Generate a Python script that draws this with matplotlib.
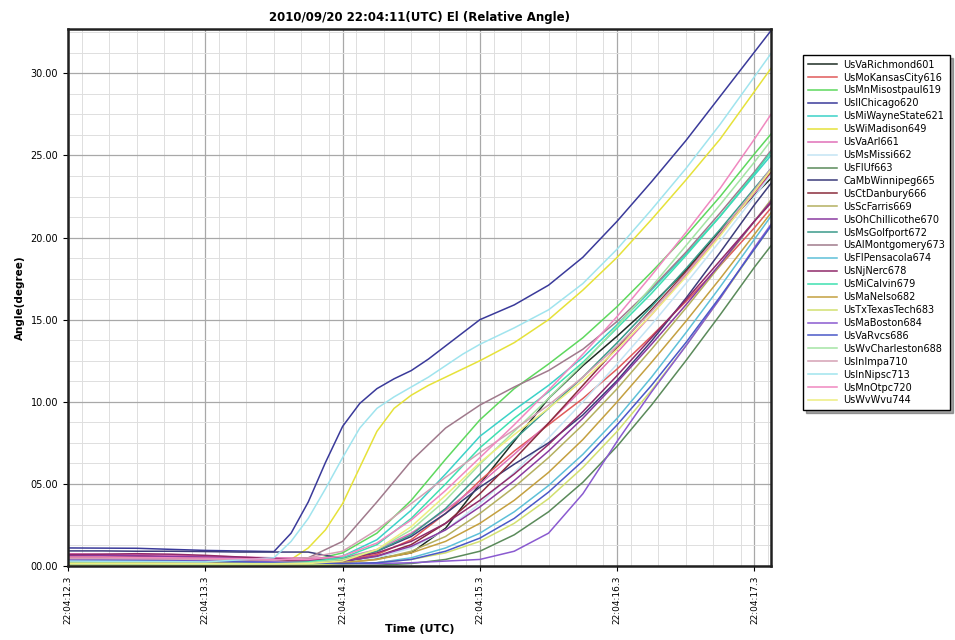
import matplotlib
matplotlib.use("Agg")
import matplotlib.pyplot as plt
from matplotlib.ticker import MultipleLocator, FuncFormatter

# seconds within 22:04
times = [12.30, 12.55, 12.80, 13.05, 13.30, 13.55, 13.80, 14.05, 14.30, 14.55, 14.80,
         15.05, 15.30, 15.55, 15.80, 16.05, 16.30, 16.55, 16.80, 17.05, 17.30, 17.42]
# denser sampling for the three early risers
times_fast = [12.30, 12.80, 13.30, 13.80, 13.925, 14.05, 14.175, 14.30, 14.425, 14.55, 14.675,
              14.80, 14.925, 15.05, 15.175, 15.30, 15.55, 15.80, 16.05, 16.30, 16.55, 16.80,
              17.05, 17.30, 17.42]

tick_pos = [12.3, 13.3, 14.3, 15.3, 16.3, 17.3]
tick_labels = ["22:04:12.3", "22:04:13.3", "22:04:14.3", "22:04:15.3", "22:04:16.3", "22:04:17.3"]

names = ["UsVaRichmond601", "UsMoKansasCity616", "UsMnMisostpaul619", "UsIlChicago620",
         "UsMiWayneState621", "UsWiMadison649", "UsVaArl661", "UsMsMissi662", "UsFlUf663",
         "CaMbWinnipeg665", "UsCtDanbury666", "UsScFarris669", "UsOhChillicothe670",
         "UsMsGolfport672", "UsAlMontgomery673", "UsFlPensacola674", "UsNjNerc678",
         "UsMiCalvin679", "UsMaNelso682", "UsTxTexasTech683", "UsMaBoston684", "UsVaRvcs686",
         "UsWvCharleston688", "UsInImpa710", "UsInNipsc713", "UsMnOtpc720", "UsWvWvu744"]

colors = ["#1e2e24", "#e05a5a", "#5ed85e", "#3a3a9a", "#3cd2c8", "#e6e23a", "#e070b8",
          "#c4e4f4", "#5a8a5a", "#3c3c7a", "#8a2c3c", "#b4b060", "#8a3aa0", "#3a9a8a",
          "#a07a8c", "#5ec0d8", "#902a6a", "#3ee0b0", "#c4a040", "#d2e070", "#8a5ad0",
          "#4a58c8", "#a4e4a4", "#d4a0b4", "#a0e4ee", "#f088c0", "#eeee80"]

richmond = [0.45, 0.45, 0.42, 0.40, 0.38, 0.35, 0.32, 0.30, 0.30, 0.45, 0.8, 2.3, 5.0, 7.6, 10.2, 12.2, 14.0, 15.9, 18.0, 20.4, 22.6, 23.6]
kansascity = [0.55, 0.58, 0.62, 0.60, 0.55, 0.45, 0.35, 0.30, 0.35, 0.7, 1.6, 3.2, 5.2, 7.0, 8.6, 10.2, 12.0, 14.0, 16.1, 18.3, 20.6, 21.8]
misostpaul = [0.25, 0.25, 0.22, 0.20, 0.20, 0.18, 0.18, 0.30, 0.8, 2.0, 4.0, 6.5, 8.9, 10.8, 12.3, 13.9, 15.8, 17.9, 20.1, 22.5, 25.1, 26.3]
chicago = [1.10, 1.08, 0.95, 0.88, 2.0, 3.9, 6.3, 8.5, 9.9, 10.8, 11.4, 11.9, 12.6, 13.4, 14.2, 15.0, 15.9, 17.1, 18.8, 21.0, 23.4, 25.9, 28.6, 31.3, 32.6]
waynestate = [0.15, 0.15, 0.14, 0.14, 0.13, 0.13, 0.15, 0.30, 0.6, 1.6, 3.4, 5.6, 7.9, 9.5, 11.0, 12.7, 14.7, 16.8, 19.0, 21.3, 23.8, 25.0]
madison = [0.20, 0.18, 0.16, 0.15, 0.4, 1.1, 2.2, 3.8, 6.0, 8.2, 9.6, 10.4, 11.0, 11.5, 12.0, 12.5, 13.6, 15.0, 16.8, 18.8, 21.1, 23.5, 26.0, 28.9, 30.3]
arl = [0.75, 0.72, 0.70, 0.66, 0.60, 0.55, 0.50, 0.48, 0.5, 1.0, 2.0, 3.4, 5.0, 6.8, 8.7, 10.8, 13.0, 15.3, 17.7, 20.2, 22.7, 23.9]
missi = [0.35, 0.35, 0.33, 0.32, 0.30, 0.28, 0.25, 0.22, 0.2, 0.5, 1.1, 2.2, 3.8, 5.7, 7.8, 10.0, 12.3, 14.7, 17.2, 19.8, 22.5, 23.8]
uf = [0.10, 0.10, 0.10, 0.08, 0.08, 0.06, 0.05, 0.04, 0.03, 0.05, 0.15, 0.4, 0.9, 1.9, 3.3, 5.1, 7.3, 9.8, 12.5, 15.3, 18.2, 19.5]
winnipeg = [0.92, 0.92, 0.90, 0.90, 0.88, 0.85, 0.85, 0.85, 0.45, 0.9, 1.8, 3.2, 4.8, 6.2, 7.5, 9.2, 11.3, 13.7, 16.3, 19.1, 22.0, 23.3]
danbury = [0.60, 0.62, 0.60, 0.55, 0.50, 0.42, 0.35, 0.30, 0.3, 0.6, 1.3, 2.6, 4.4, 6.5, 8.7, 11.0, 13.3, 15.6, 17.9, 20.3, 22.8, 24.0]
farris = [0.20, 0.20, 0.20, 0.18, 0.18, 0.16, 0.15, 0.15, 0.2, 0.4, 0.9, 1.8, 3.2, 4.8, 6.6, 8.6, 10.8, 13.2, 15.7, 18.3, 21.0, 22.3]
chillicothe = [0.65, 0.65, 0.62, 0.58, 0.55, 0.50, 0.42, 0.36, 0.3, 0.6, 1.2, 2.2, 3.6, 5.2, 7.0, 9.0, 11.2, 13.5, 15.9, 18.4, 21.0, 22.2]
golfport = [0.30, 0.30, 0.28, 0.26, 0.25, 0.22, 0.20, 0.20, 0.4, 0.9, 1.9, 3.5, 5.6, 7.7, 9.6, 11.5, 13.6, 15.8, 18.1, 20.5, 23.0, 24.2]
montgomery = [0.50, 0.50, 0.48, 0.45, 0.42, 0.38, 0.35, 0.50, 1.5, 3.9, 6.4, 8.4, 9.8, 10.9, 11.9, 13.2, 14.9, 16.9, 19.1, 21.5, 24.0, 25.3]
pensacola = [0.12, 0.12, 0.12, 0.11, 0.10, 0.10, 0.10, 0.10, 0.1, 0.2, 0.5, 1.1, 2.0, 3.3, 4.9, 6.8, 9.0, 11.5, 14.2, 17.0, 19.9, 21.3]
nerc = [0.70, 0.72, 0.75, 0.72, 0.65, 0.55, 0.45, 0.40, 0.4, 0.8, 1.5, 2.6, 4.0, 5.6, 7.4, 9.4, 11.6, 13.9, 16.2, 18.6, 21.0, 22.1]
calvin = [0.20, 0.20, 0.19, 0.18, 0.17, 0.16, 0.16, 0.25, 0.5, 1.3, 2.9, 5.0, 7.2, 9.0, 10.6, 12.4, 14.5, 16.6, 18.9, 21.3, 23.9, 25.2]
nelso = [0.25, 0.25, 0.24, 0.22, 0.20, 0.18, 0.16, 0.15, 0.2, 0.4, 0.8, 1.5, 2.6, 4.0, 5.7, 7.7, 10.0, 12.4, 14.9, 17.5, 20.2, 21.5]
texastech = [0.05, 0.05, 0.05, 0.05, 0.05, 0.05, 0.05, 0.05, 0.1, 0.2, 0.4, 0.8, 1.5, 2.6, 4.1, 6.0, 8.2, 10.7, 13.4, 16.3, 19.3, 20.7]
boston = [0.40, 0.40, 0.38, 0.36, 0.34, 0.30, 0.25, 0.20, 0.15, 0.15, 0.2, 0.3, 0.4, 0.9, 2.0, 4.4, 7.6, 10.6, 13.4, 16.3, 19.4, 20.8]
rvcs = [0.35, 0.35, 0.33, 0.30, 0.28, 0.25, 0.20, 0.18, 0.15, 0.2, 0.4, 0.9, 1.7, 2.9, 4.5, 6.4, 8.6, 11.0, 13.6, 16.4, 19.3, 20.7]
charleston = [0.18, 0.18, 0.17, 0.16, 0.15, 0.15, 0.15, 0.20, 0.4, 1.0, 2.2, 4.0, 6.2, 8.2, 10.2, 12.3, 14.6, 17.0, 19.5, 22.0, 24.6, 25.9]
impa = [0.45, 0.45, 0.44, 0.42, 0.40, 0.38, 0.36, 0.50, 0.9, 2.2, 3.8, 5.4, 6.9, 8.3, 9.8, 11.5, 13.4, 15.5, 17.8, 20.3, 22.9, 24.2]
nipsc = [0.30, 0.28, 0.25, 0.50, 1.5, 2.9, 4.7, 6.6, 8.4, 9.6, 10.3, 10.9, 11.5, 12.2, 12.9, 13.5, 14.5, 15.6, 17.2, 19.3, 21.7, 24.2, 26.9, 29.8, 31.2]
otpc = [0.55, 0.55, 0.52, 0.50, 0.48, 0.45, 0.40, 0.40, 0.6, 1.4, 2.8, 4.6, 6.6, 8.6, 10.7, 12.9, 15.2, 17.7, 20.3, 23.0, 26.0, 27.5]
wvu = [0.15, 0.15, 0.15, 0.14, 0.14, 0.13, 0.13, 0.15, 0.3, 1.0, 2.4, 4.3, 6.3, 8.0, 9.6, 11.3, 13.2, 15.3, 17.6, 20.1, 22.8, 24.1]

series = [richmond, kansascity, misostpaul, chicago, waynestate, madison, arl, missi, uf,
          winnipeg, danbury, farris, chillicothe, golfport, montgomery, pensacola, nerc,
          calvin, nelso, texastech, boston, rvcs, charleston, impa, nipsc, otpc, wvu]

fig = plt.figure(figsize=(9.55, 6.4), dpi=100)
ax = fig.add_axes([0.0712, 0.1156, 0.7361, 0.8391])

for name, vals, c in zip(names, series, colors):
    x = times_fast if len(vals) == len(times_fast) else times
    ax.plot(x, vals, color=c, lw=1.1, label=name)

ax.set_xlim(12.3, 17.42)
ax.set_ylim(0, 32.7)
ax.set_xticks(tick_pos)
ax.set_xticklabels(tick_labels, rotation=90, fontsize=6.5)
ax.xaxis.set_minor_locator(MultipleLocator(0.2))
ax.yaxis.set_major_locator(MultipleLocator(5))
ax.yaxis.set_minor_locator(MultipleLocator(1.25))
ax.yaxis.set_major_formatter(FuncFormatter(lambda v, p: "%05.2f" % v))
ax.tick_params(axis="y", labelsize=7)
ax.tick_params(which="minor", length=0)
ax.grid(which="major", color="#a8a8a8", lw=0.9)
ax.grid(which="minor", color="#dedede", lw=0.7)
ax.set_axisbelow(True)
for s in ax.spines.values():
    s.set_linewidth(1.8)
    s.set_color("#202020")

ax.set_title("2010/09/20 22:04:11(UTC) El (Relative Angle)", fontsize=8.5, fontweight="bold")
ax.set_xlabel("Time (UTC)", fontsize=8, fontweight="bold")
ax.xaxis.set_label_coords(0.5, -0.108)
ax.set_ylabel("Angle(degree)", fontsize=7.5, fontweight="bold")

fig.legend(loc="upper left", bbox_to_anchor=(0.836, 0.922), fontsize=7, labelspacing=0.3,
           handlelength=3.0, frameon=True, fancybox=False, shadow=True, edgecolor="black",
           borderpad=0.5, handletextpad=0.6)

fig.savefig("out.png", dpi=100)
